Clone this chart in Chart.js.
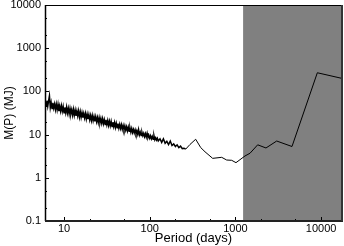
<!DOCTYPE html>
<html>
<head>
<meta charset="utf-8">
<script src="https://cdn.jsdelivr.net/npm/chart.js@4/dist/chart.umd.min.js"></script>
<style>
  html, body { margin: 0; padding: 0; background: #fff; }
</style>
</head>
<body>
<canvas id="chart" width="344" height="246"></canvas>
<script>
// noisy short-period part of the limit curve
const noisyPeriods = [6.026, 6.166, 6.310, 6.457, 6.607, 6.761, 6.918, 7.079, 7.244, 7.413, 7.586, 7.762, 7.943, 8.128, 8.318, 8.511,
  8.710, 8.913, 9.120, 9.333, 9.550, 9.772,
  10.0, 10.23, 10.47, 10.72, 10.96, 11.22, 11.48, 11.75, 12.02, 12.30, 12.59, 12.88, 13.18, 13.49, 13.80, 14.13, 14.45, 14.79,
  15.14, 15.49, 15.85, 16.22, 16.60, 16.98, 17.38, 17.78, 18.20, 18.62, 19.05, 19.50, 19.95, 20.42, 20.89, 21.38, 21.88, 22.39,
  22.91, 23.44, 23.99, 24.55, 25.12, 25.70, 26.30, 26.92, 27.54, 28.18, 28.84, 29.51, 30.20, 30.90, 31.62, 32.36, 33.11, 33.88,
  34.67, 35.48, 36.31, 37.15, 38.02, 38.90, 39.81, 40.74, 41.69, 42.66, 43.65, 44.67, 45.71, 46.77, 47.86, 48.98, 50.12, 51.29,
  52.48, 53.70, 54.95, 56.23, 57.54, 58.88, 60.26, 61.66, 63.10, 64.57, 66.07, 67.61, 69.18, 70.79, 72.44, 74.13, 75.86, 77.62,
  79.43, 81.28, 83.18, 85.11, 87.10, 89.13, 91.20, 93.33, 95.50, 97.72,
  100, 102.3, 104.7, 107.2, 109.6, 112.2, 114.8, 117.5, 120.2, 123.0, 125.9,
  131.8, 138.0, 144.5, 151.4, 158.5, 166.0, 173.8, 182.0, 190.5, 199.5, 208.9, 218.8, 229.1, 239.9, 251.2, 263.0];
const noisyMasses = [60.1, 45.4, 60.8, 45.1, 60.2, 79.0, 42.3, 55.1, 40.0, 54.6,
  41.0, 51.1, 37.9, 50.8, 37.6, 50.4, 35.1, 45.9, 34.9, 46.6,
  34.7, 44.7, 32.2, 42.6, 32.1, 43.3, 31.6, 40.7, 30.0, 40.2,
  30.3, 37.9, 28.4, 38.5, 28.2, 36.8, 27.2, 35.1, 27.1, 35.4,
  25.5, 33.6, 25.1,
  32.3, 24.6, 30.8, 24.2, 30.8, 23.0, 29.5, 22.9, 29.0, 22.0,
  27.7, 21.1, 27.6, 21.1, 26.3, 20.2, 25.9, 19.9, 24.8, 19.0,
  24.7, 18.9, 23.6, 18.2, 23.3, 17.9, 22.2, 17.2, 22.0, 16.9,
  21.2, 16.3, 20.4, 16.0, 20.2, 15.4, 19.4, 15.3, 19.0, 14.6,
  18.3, 14.5, 18.0, 14.0, 17.2, 13.8, 16.9, 13.3, 16.3, 13.1,
  16.0, 12.7, 15.2, 12.2, 15.0, 12.0, 14.2, 11.4, 13.9, 11.2,
  13.2, 10.9, 12.9, 10.5, 12.2, 10.2, 13.0, 9.83, 11.4, 9.57,
  11.2, 9.39, 10.7, 8.99, 10.5, 8.78, 10.7, 8.50, 9.62, 8.23,
  9.43, 7.99, 9.06, 7.84, 9.37, 7.60, 8.46, 7.46, 8.20, 7.16,
  8.0, 6.6, 8.0, 6.3, 7.0, 5.9, 7.1, 5.6, 6.1, 5.3, 5.8, 5.0, 5.4, 4.75, 4.85, 4.6];

// smooth long-period part
const longPeriods = [295, 344, 394, 442, 543, 692, 791, 905, 1016, 1294, 1480, 1820, 2274, 3033, 4575, 9040, 17540];
const longMasses = [5.9, 7.8, 5.0, 4.0, 2.82, 2.98, 2.58, 2.54, 2.24, 3.2, 3.7, 5.8, 4.9, 7.1, 5.3, 270, 200];

const shadeStart = 1230; // grey band: periods beyond the data span
const xTicks = [10, 100, 1000, 10000];
const xMinor = [20, 50, 200, 500, 2000, 5000];
const yTicks = [0.1, 1, 10, 100, 1000, 10000];
const yMinor = [0.2, 0.5, 2, 5, 20, 50, 200, 500, 2000, 5000];

const noisyPoints = noisyPeriods.map((p, i) => ({ x: p, y: noisyMasses[i] }));
const last = noisyPoints[noisyPoints.length - 1];
const longPoints = [last].concat(longPeriods.map((p, i) => ({ x: p, y: longMasses[i] })));

const font = { family: "'Liberation Sans', Arial, sans-serif", size: 11 };

const framePlugin = {
  id: 'frame',
  beforeDatasetsDraw(chart) {
    const { ctx, chartArea: a, scales: { x } } = chart;
    const x0 = x.getPixelForValue(shadeStart);
    ctx.save();
    ctx.fillStyle = '#808080';
    ctx.fillRect(x0, a.top, a.right - x0, a.bottom - a.top);
    ctx.restore();
  },
  afterDraw(chart) {
    const { ctx, chartArea: a, scales: { x, y } } = chart;
    ctx.save();
    ctx.strokeStyle = '#000';
    ctx.lineWidth = 1;
    // inward tick marks
    ctx.beginPath();
    xTicks.forEach(v => { const px = Math.round(x.getPixelForValue(v)) + 0.5; ctx.moveTo(px, a.bottom); ctx.lineTo(px, a.bottom - 4); });
    xMinor.forEach(v => { const px = Math.round(x.getPixelForValue(v)) + 0.5; ctx.moveTo(px, a.bottom); ctx.lineTo(px, a.bottom - 2); });
    yTicks.forEach(v => { const py = Math.round(y.getPixelForValue(v)) + 0.5; ctx.moveTo(a.left, py); ctx.lineTo(a.left + 4, py); });
    yMinor.forEach(v => { const py = Math.round(y.getPixelForValue(v)) + 0.5; ctx.moveTo(a.left, py); ctx.lineTo(a.left + 2, py); });
    ctx.stroke();
    // frame
    ctx.beginPath();
    ctx.moveTo(a.left, a.top + 0.5); ctx.lineTo(a.right, a.top + 0.5);
    ctx.stroke();
    ctx.lineWidth = 1.5;
    ctx.beginPath();
    ctx.moveTo(a.left + 0.5, a.top); ctx.lineTo(a.left + 0.5, a.bottom);
    ctx.stroke();
    ctx.strokeStyle = '#222';
    ctx.lineWidth = 2;
    ctx.beginPath();
    ctx.moveTo(a.left, a.bottom); ctx.lineTo(a.right + 1, a.bottom);
    ctx.stroke();
    ctx.strokeStyle = '#333';
    ctx.beginPath();
    ctx.moveTo(a.right, a.top); ctx.lineTo(a.right, a.bottom);
    ctx.stroke();
    ctx.restore();
  }
};

new Chart(document.querySelector('#chart'), {
  type: 'line',
  data: {
    datasets: [{
      data: noisyPoints,
      borderColor: '#000',
      borderWidth: 1.5,
      pointRadius: 0,
      tension: 0,
      fill: false
    }, {
      data: longPoints,
      borderColor: '#000',
      borderWidth: 1,
      pointRadius: 0,
      tension: 0,
      fill: false
    }]
  },
  options: {
    responsive: false,
    animation: false,
    devicePixelRatio: 1,
    layout: { padding: { top: 5, right: 2, left: 0, bottom: 0 } },
    plugins: { legend: { display: false }, tooltip: { enabled: false } },
    scales: {
      x: {
        type: 'logarithmic',
        min: 6,
        max: 17540,
        grid: { display: false, drawTicks: false },
        border: { display: false },
        afterBuildTicks: axis => { axis.ticks = xTicks.map(v => ({ value: v })); },
        afterFit: axis => { axis.height = 25; axis.paddingLeft = 0; axis.paddingRight = 0; },
        ticks: { font: font, color: '#000', padding: 1, maxRotation: 0, autoSkip: false, callback: v => String(v) },
        title: { display: true, text: 'Period (days)', color: '#000', font: { family: font.family, size: 13 }, padding: 0 }
      },
      y: {
        type: 'logarithmic',
        min: 0.1,
        max: 10000,
        grid: { display: false, drawTicks: false },
        border: { display: false },
        afterBuildTicks: axis => { axis.ticks = yTicks.map(v => ({ value: v })); },
        afterFit: axis => { axis.width = 45; axis.paddingTop = 0; axis.paddingBottom = 0; },
        ticks: { font: font, color: '#000', padding: 4, autoSkip: false, callback: v => String(v) },
        title: { display: true, text: 'M(P) (MJ)', color: '#000', font: { family: font.family, size: 12 }, padding: 2 }
      }
    }
  },
  plugins: [framePlugin]
});
</script>
</body>
</html>
